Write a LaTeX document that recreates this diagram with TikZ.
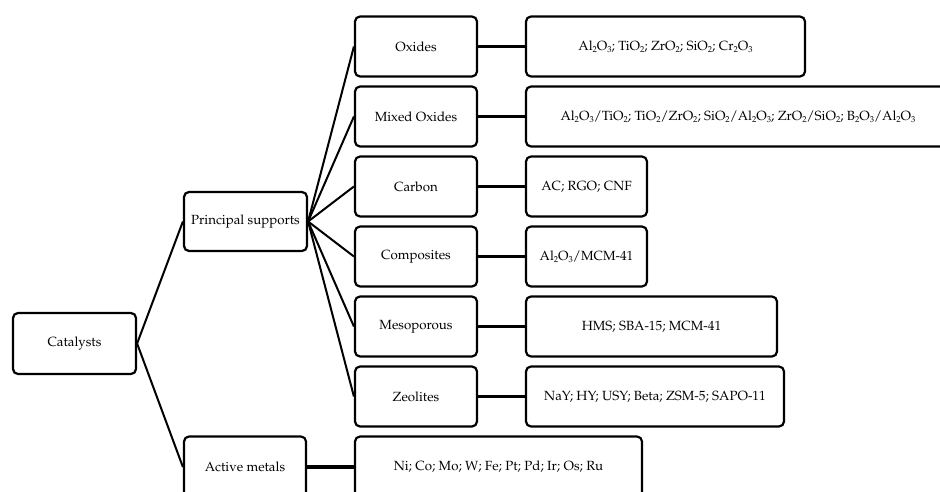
\documentclass[tikz,border=0pt]{standalone}
\usepackage[T1]{fontenc}
\usepackage{mathpazo}
% compact chemical subscript
\newcommand\chsub[1]{\raisebox{-0.32ex}{\fontsize{8.6}{8.6}\selectfont #1}}
\begin{document}
\begin{tikzpicture}[x=1pt,y=-1pt,
  box/.style={draw=black, line width=2.2pt, rounded corners=5pt, fill=white,
    inner sep=0pt, align=center, font=\fontsize{13.3}{16}\selectfont,
    minimum height=60pt},
  fan/.style={draw=black, line width=2pt},
  link/.style={draw=black, line width=3.2pt}]
\useasboundingbox (0,0) rectangle (940,492);
\begin{scope}
\clip (0,0) rectangle (940,492);

% root and first level
\node[box, minimum width=123pt, minimum height=61pt] (cat) at (74.5,343.5) {Catalysts};
\node[box, minimum width=123pt, minimum height=59pt] (ps) at (245.5,221.5) {Principal supports};
\node[box, minimum width=122pt, minimum height=61pt] (am) at (245,467) {Active metals};

% support families
\node[box, minimum width=122pt] (ox)   at (416,46.5)  {Oxides};
\node[box, minimum width=122pt] (mox)  at (416,116.5) {Mixed Oxides};
\node[box, minimum width=122pt] (car)  at (416,186.5) {Carbon};
\node[box, minimum width=122pt] (com)  at (416,256.5) {Composites};
\node[box, minimum width=122pt] (mes)  at (416,326.5) {Mesoporous};
\node[box, minimum width=122pt] (zeo)  at (416,396.5) {Zeolites};

% examples
\node[box, minimum width=279pt] (oxv)  at (665.5,46.5)
  {Al\chsub2O\chsub3; TiO\chsub2; ZrO\chsub2; SiO\chsub2; Cr\chsub2O\chsub3};
\node[box, minimum width=424pt] (moxv) at (738,116.5)
  {Al\chsub2O\chsub3/TiO\chsub2; TiO\chsub2/ZrO\chsub2; SiO\chsub2/Al\chsub2O\chsub3; ZrO\chsub2/SiO\chsub2; B\chsub2O\chsub3/Al\chsub2O\chsub3};
\node[box, minimum width=121pt] (carv) at (586.5,186.5) {AC; RGO; CNF};
\node[box, minimum width=121pt] (comv) at (586.5,256.5) {Al\chsub2O\chsub3/MCM-41};
\node[box, minimum width=251pt] (mesv) at (651.5,326.5) {HMS; SBA-15; MCM-41};
\node[box, minimum width=258pt] (zeov) at (655,396.5) {NaY; HY; USY; Beta; ZSM-5; SAPO-11};
\node[box, minimum width=287pt, minimum height=61pt] (amv) at (498.5,467)
  {Ni; Co; Mo; W; Fe; Pt; Pd; Ir; Os; Ru};

% tree connectors
\draw[fan] (cat.east) -- (ps.west);
\draw[fan] (cat.east) -- (am.west);
\foreach \n in {ox,mox,car,com,mes,zeo}
  \draw[fan] (ps.east) -- (\n.west);

\draw[link] (ox.east)  -- (oxv.west);
\draw[link] (mox.east) -- (moxv.west);
\draw[link] (car.east) -- (carv.west);
\draw[link] (com.east) -- (comv.west);
\draw[link] (mes.east) -- (mesv.west);
\draw[link] (zeo.east) -- (zeov.west);
\draw[link] (am.east)  -- (amv.west);
\end{scope}
\end{tikzpicture}
\end{document}
